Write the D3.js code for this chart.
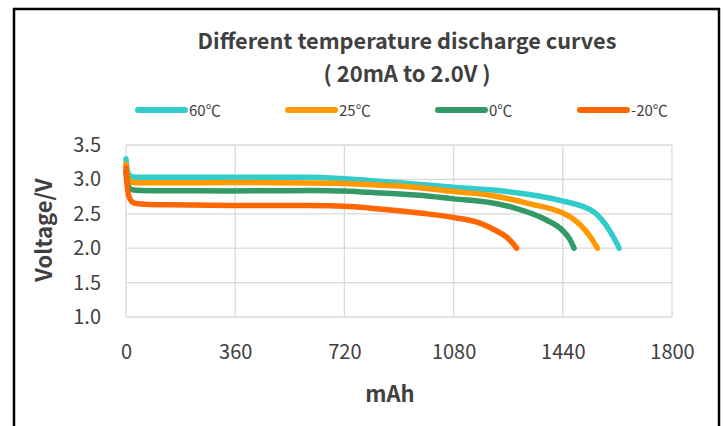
<!DOCTYPE html>
<html>
<head>
<meta charset="utf-8">
<title>Discharge curves</title>
<script src="https://cdn.jsdelivr.net/npm/d3@7"></script>
<style>
  body { margin: 0; background: #fff; }
  svg text { font-family: "Noto Sans CJK SC", "Noto Sans", sans-serif; fill: #404040; }
</style>
</head>
<body>
<div id="chart"></div>
<script>
// data (mAh / V)
const seriesNames = ["60℃", "25℃", "0℃", "-20℃"];
const seriesColors = ["#33cccc", "#ff9900", "#339966", "#ff6600"];

const cap60 = [0, 3, 8, 15, 25, 45, 150, 343, 500, 600, 673, 720, 800, 892, 1000, 1080, 1200, 1300, 1365, 1441, 1497, 1530, 1555, 1580, 1606, 1626];
const volt60 = [3.30, 3.17, 3.08, 3.05, 3.035, 3.03, 3.03, 3.032, 3.033, 3.03, 3.022, 3.01, 2.985, 2.954, 2.915, 2.887, 2.848, 2.80, 2.755, 2.685, 2.62, 2.56, 2.48, 2.35, 2.17, 2.0];

const cap25 = [0, 3, 8, 15, 25, 45, 150, 343, 500, 600, 673, 720, 800, 892, 1000, 1080, 1200, 1332, 1441, 1470, 1497, 1530, 1554];
const volt25 = [3.22, 3.08, 3.00, 2.97, 2.955, 2.95, 2.95, 2.954, 2.952, 2.948, 2.944, 2.94, 2.925, 2.906, 2.865, 2.823, 2.77, 2.645, 2.51, 2.44, 2.34, 2.17, 2.0];

const cap0 = [0, 3, 8, 15, 25, 45, 150, 343, 500, 600, 673, 720, 800, 892, 1000, 1080, 1200, 1277, 1386, 1441, 1463, 1477];
const volt0 = [3.12, 2.98, 2.90, 2.86, 2.845, 2.84, 2.835, 2.833, 2.835, 2.837, 2.835, 2.83, 2.812, 2.79, 2.755, 2.717, 2.664, 2.59, 2.41, 2.25, 2.13, 2.0];

const capM20 = [0, 3, 8, 15, 25, 45, 80, 150, 343, 500, 600, 673, 720, 800, 892, 1000, 1080, 1167, 1222, 1255, 1277, 1288];
const voltM20 = [3.17, 2.95, 2.78, 2.70, 2.66, 2.645, 2.635, 2.63, 2.622, 2.62, 2.62, 2.618, 2.61, 2.585, 2.548, 2.495, 2.446, 2.365, 2.25, 2.16, 2.06, 2.0];

const xTicks = [0, 360, 720, 1080, 1440, 1800];
const yTicks = [1.0, 1.5, 2.0, 2.5, 3.0, 3.5];

const caps = [cap60, cap25, cap0, capM20];
const volts = [volt60, volt25, volt0, voltM20];

const width = 723, height = 426;
const plot = { left: 126, right: 672, top: 145, bottom: 317 };

const svg = d3.select("#chart").append("svg")
  .attr("width", width)
  .attr("height", height);

svg.append("rect").attr("width", width).attr("height", height).attr("fill", "#fff");

// outer frame (no bottom edge visible)
svg.append("path")
  .attr("d", "M14,430V9H719V430")
  .attr("fill", "none")
  .attr("stroke", "#000")
  .attr("stroke-width", 2.5);

const x = d3.scaleLinear().domain([0, 1800]).range([plot.left, plot.right]);
const y = d3.scaleLinear().domain([1.0, 3.5]).range([plot.bottom, plot.top]);

// grid
svg.append("g")
  .selectAll("line")
  .data(yTicks)
  .join("line")
    .attr("x1", plot.left).attr("x2", plot.right)
    .attr("y1", d => y(d)).attr("y2", d => y(d))
    .attr("stroke", "#d9d9d9").attr("stroke-width", 1.3);

svg.append("g")
  .selectAll("line")
  .data(xTicks)
  .join("line")
    .attr("x1", d => x(d)).attr("x2", d => x(d))
    .attr("y1", plot.top).attr("y2", plot.bottom)
    .attr("stroke", "#d9d9d9").attr("stroke-width", 1.3);

// axes (labels only)
const xAxis = svg.append("g")
  .attr("transform", `translate(0,${plot.bottom + 28})`)
  .call(d3.axisBottom(x).tickValues(xTicks).tickFormat(d3.format("d")).tickSize(0).tickPadding(0));
xAxis.select(".domain").remove();
xAxis.selectAll("text").attr("font-size", 20).attr("fill", "#404040");

const yAxis = svg.append("g")
  .attr("transform", `translate(${plot.left - 25},0)`)
  .call(d3.axisLeft(y).tickValues(yTicks).tickFormat(d3.format(".1f")).tickSize(0).tickPadding(0));
yAxis.select(".domain").remove();
yAxis.selectAll("text").attr("font-size", 20).attr("fill", "#404040");
svg.selectAll(".tick text").style("font-family", "'Noto Sans CJK SC', sans-serif");

// curves
const line = d3.line()
  .x(d => x(d[0]))
  .y(d => y(d[1]))
  .curve(d3.curveMonotoneX);

seriesNames.forEach((name, i) => {
  const pts = caps[i].map((c, j) => [c, volts[i][j]]);
  svg.append("path")
    .datum(pts)
    .attr("d", line)
    .attr("fill", "none")
    .attr("stroke", seriesColors[i])
    .attr("stroke-width", 5.5)
    .attr("stroke-linecap", "round")
    .attr("stroke-linejoin", "round");
});

// title
svg.append("text")
  .attr("x", 407).attr("y", 49)
  .attr("text-anchor", "middle")
  .attr("font-size", 21.7).attr("font-weight", "bold").attr("fill", "#333")
  .text("Different temperature discharge curves");
svg.append("text")
  .attr("x", 407).attr("y", 82)
  .attr("text-anchor", "middle")
  .attr("font-size", 22).attr("font-weight", "bold").attr("fill", "#333")
  .text("( 20mA to 2.0V )");

// legend
const legendX = [135, 285, 435, 577];
const legend = svg.append("g");
seriesNames.forEach((name, i) => {
  legend.append("line")
    .attr("x1", legendX[i] + 3).attr("x2", legendX[i] + 50)
    .attr("y1", 110).attr("y2", 110)
    .attr("stroke", seriesColors[i])
    .attr("stroke-width", 6)
    .attr("stroke-linecap", "round");
  legend.append("text")
    .attr("x", legendX[i] + 54).attr("y", 116)
    .attr("font-size", 15).attr("fill", "#404040")
    .text(name);
});

// axis titles
svg.append("text")
  .attr("transform", "translate(52,230) rotate(-90)")
  .attr("text-anchor", "middle")
  .attr("font-size", 22).attr("font-weight", "bold")
  .text("Voltage/V");

svg.append("text")
  .attr("x", 390).attr("y", 402)
  .attr("text-anchor", "middle")
  .attr("font-size", 22).attr("font-weight", "bold")
  .text("mAh");
</script>
</body>
</html>
